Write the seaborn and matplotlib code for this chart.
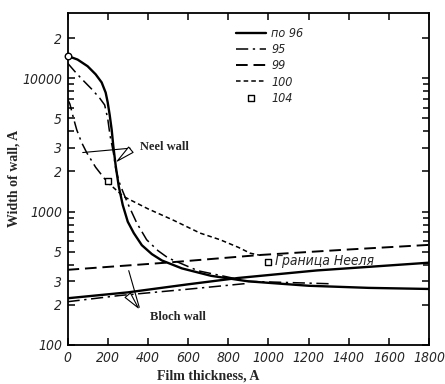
import matplotlib
matplotlib.use("Agg")
import numpy as np
import pandas as pd
import seaborn as sns
from matplotlib import pyplot as plt
from matplotlib.ticker import FixedLocator, NullFormatter

# Neel wall width vs film thickness
neel_96_x = [0, 50, 100, 140, 170, 190, 200, 210, 220, 228, 240, 255, 275, 300, 330, 370, 420, 470, 570, 715, 900, 1200, 1500, 1800]
neel_96_y = [14700, 13800, 12300, 10700, 9300, 7800, 6600, 5300, 4100, 3100, 2200, 1550, 1120, 840, 690, 560, 480, 430, 375, 330, 300, 278, 268, 263]
neel_95_x = [0, 35, 70, 120, 160, 185, 200, 212, 228, 240, 255, 275, 300, 345, 394, 450, 500, 650, 900, 1300]
neel_95_y = [13000, 11300, 9900, 8300, 7100, 6300, 5000, 3700, 2800, 2100, 1700, 1420, 1150, 820, 615, 510, 450, 360, 300, 288]
neel_100_head_x = [0, 12, 30, 46, 70, 96, 140, 197]
neel_100_head_y = [7000, 6400, 5000, 4100, 3300, 2760, 2150, 1670]
neel_100_x = [197, 278, 400, 525, 660, 760, 850, 909, 960]
neel_100_y = [1670, 1300, 1050, 865, 690, 615, 540, 488, 470]

# Bloch wall width vs film thickness
bloch_96_x = [0, 300, 600, 850, 1240, 1800]
bloch_96_y = [224, 248, 285, 318, 362, 414]
bloch_95_x = [0, 260, 600, 900]
bloch_95_y = [211, 235, 262, 290]
bloch_99_x = [0, 500, 960, 1400, 1800]
bloch_99_y = [366, 415, 473, 520, 563]

squares_x = [200, 1000]
squares_y = [1700, 420]

y_major = [100, 200, 300, 500, 1000, 2000, 3000, 5000, 10000, 20000]
y_major_labels = ["100", "2", "3", "5", "1000", "2", "3", "5", "10000", "2"]
y_minor = [400, 600, 700, 800, 900, 4000, 6000, 7000, 8000, 9000]
x_ticks = list(range(0, 1801, 200))

sns.set_style("ticks")
plt.rcParams["font.family"] = ["DejaVu Sans"]
narrow = dict(family="DejaVu Sans", stretch="condensed", style="oblique")
serif = ["Liberation Serif", "DejaVu Serif"]

fig = plt.figure(figsize=(4.45, 3.84), dpi=100)
ax = fig.add_axes([0.1517, 0.1016, 0.8125, 0.8654])

dashdot = (0, (8, 3, 1.5, 3))
dashed = (0, (6, 3))
short = (0, (3, 2))

sns.lineplot(x=neel_96_x, y=neel_96_y, ax=ax, color="black", lw=1.7, label="по 96")
sns.lineplot(x=neel_95_x, y=neel_95_y, ax=ax, color="black", lw=1.1, linestyle=dashdot, label="95")
sns.lineplot(x=bloch_99_x, y=bloch_99_y, ax=ax, color="black", lw=1.4, linestyle=dashed, label="99")
sns.lineplot(x=neel_100_x, y=neel_100_y, ax=ax, color="black", lw=1.1, linestyle=short, label="100")
sns.lineplot(x=neel_100_head_x, y=neel_100_head_y, ax=ax, color="black", lw=1.1, linestyle=dashdot)
sns.lineplot(x=bloch_96_x, y=bloch_96_y, ax=ax, color="black", lw=1.7)
sns.lineplot(x=bloch_95_x, y=bloch_95_y, ax=ax, color="black", lw=1.1, linestyle=dashdot)
sns.scatterplot(x=squares_x, y=squares_y, ax=ax, marker="s", s=22, facecolor="white",
                edgecolor="black", linewidth=1.0, label="104", zorder=5)
ax.scatter([neel_96_x[0]], [neel_96_y[0]], s=22, facecolor="white", edgecolor="black",
           linewidth=1.0, zorder=6, clip_on=False)

ax.set_yscale("log")
ax.set_xlim(0, 1800)
ax.set_ylim(100, 31000)
ax.xaxis.set_major_locator(FixedLocator(x_ticks))
ax.set_xticklabels([str(t) for t in x_ticks], fontsize=10, **narrow)
ax.yaxis.set_major_locator(FixedLocator(y_major))
ax.set_yticklabels(y_major_labels, fontsize=10, **narrow)
ax.yaxis.set_minor_locator(FixedLocator(y_minor))
ax.yaxis.set_minor_formatter(NullFormatter())
ax.tick_params(which="both", direction="in", top=True, right=True, width=1.1, color="black")
ax.tick_params(which="major", length=5, pad=4)
ax.tick_params(which="minor", length=4)
for s in ax.spines.values():
    s.set_linewidth(1.3)
    s.set_color("black")

ax.set_xlabel("Film thickness, A", family=serif, fontweight="bold", fontsize=10)
ax.set_ylabel("Width of wall, A", family=serif, fontweight="bold", fontsize=10)
ax.xaxis.set_label_coords(0.39, -0.075)
ax.yaxis.set_label_coords(-0.13, 0.5)

# pointers and labels
ax.text(361, 3050, "Neel wall", family=serif, fontweight="bold", fontsize=9, va="center", ha="left")
ax.annotate("", xy=(62, 2760), xytext=(326, 3000),
            arrowprops=dict(arrowstyle="-", color="black", lw=0.8))
ax.annotate("", xy=(237, 2320), xytext=(326, 3000),
            arrowprops=dict(arrowstyle="wedge,tail_width=0.5", fc="white", ec="black", lw=0.8))
ax.text(411, 162, "Bloch wall", family=serif, fontweight="bold", fontsize=9, va="center", ha="left")
ax.annotate("", xy=(301, 378), xytext=(361, 183),
            arrowprops=dict(arrowstyle="-", color="black", lw=0.8))
ax.annotate("", xy=(361, 183), xytext=(291, 245),
            arrowprops=dict(arrowstyle="wedge,tail_width=0.5", fc="white", ec="black", lw=0.8))
ax.text(1035, 425, "Граница Нееля", fontsize=10, va="center", ha="left", **narrow)

handles, labels = ax.get_legend_handles_labels()
leg = ax.legend(handles, labels, loc="upper left", bbox_to_anchor=(0.45, 0.975), frameon=False,
                handlelength=2.4, handletextpad=0.4, labelspacing=0.25, borderpad=0,
                prop=dict(size=9, **narrow))

plt.savefig("out.png", dpi=100)
